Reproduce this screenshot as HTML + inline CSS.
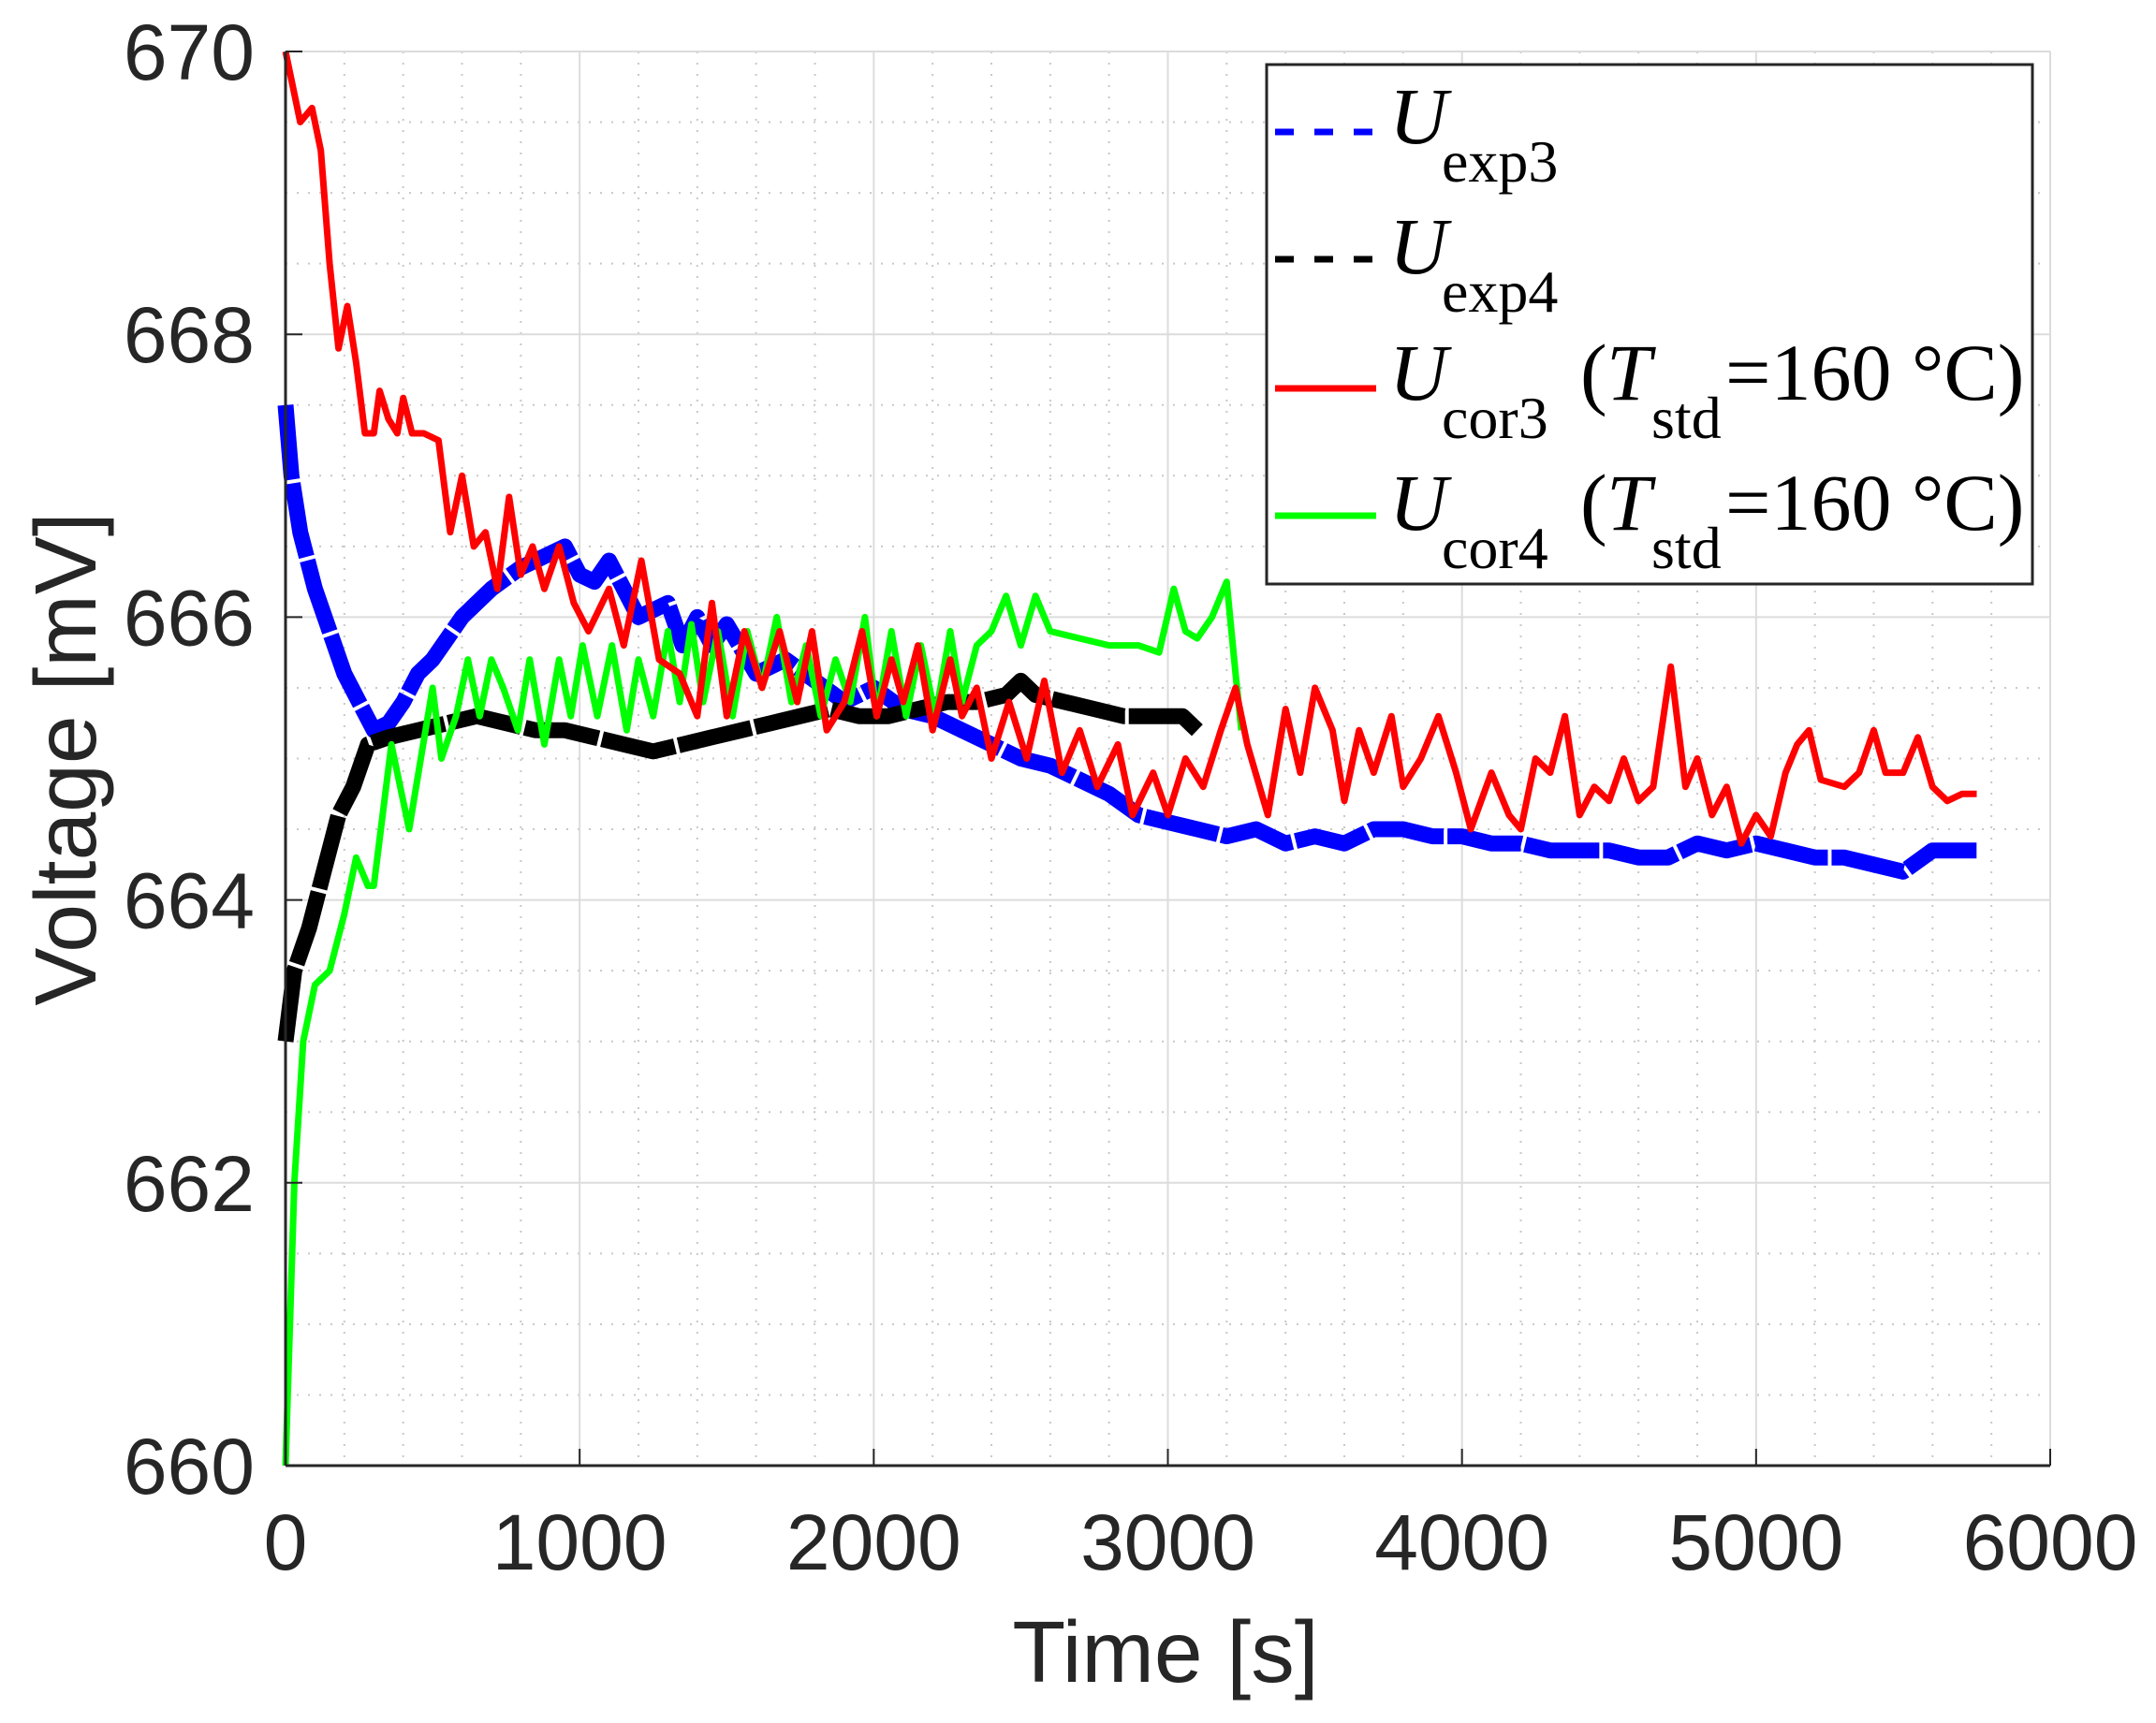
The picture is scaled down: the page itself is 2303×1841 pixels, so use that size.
<!DOCTYPE html>
<html><head><meta charset="utf-8"><style>
html,body{margin:0;padding:0;background:#fff;}
svg{display:block;}
</style></head><body>
<svg id="chart" width="2303" height="1841" viewBox="0 0 2303 1841" xmlns="http://www.w3.org/2000/svg">
<rect width="2303" height="1841" fill="#fff"/>
<g id="grid"></g>
<g id="series"></g>
<g id="axes"></g>
<text x="1245" y="1797" font-family="Liberation Sans, sans-serif" font-size="93" fill="#262626" text-anchor="middle">Time [s]</text>
<text transform="translate(102,811) rotate(-90)" font-family="Liberation Sans, sans-serif" font-size="93" fill="#262626" text-anchor="middle">Voltage [mV]</text>
<g font-family="Liberation Serif, serif" fill="#000">
<rect x="1353" y="69" width="818" height="555" fill="#fff" stroke="#262626" stroke-width="3"/>
<g>
<line x1="1362" y1="141" x2="1470" y2="141" stroke="#0000ff" stroke-width="7" stroke-dasharray="20,22"/>
<text x="1484" y="153" font-size="86" font-style="italic">U</text>
<text x="1540" y="194" font-size="64">exp3</text></g>
<g>
<line x1="1362" y1="277" x2="1470" y2="277" stroke="#000" stroke-width="7" stroke-dasharray="20,22"/>
<text x="1484" y="292" font-size="86" font-style="italic">U</text>
<text x="1540" y="333" font-size="64">exp4</text></g>
<g>
<line x1="1362" y1="415" x2="1470" y2="415" stroke="#ff0000" stroke-width="7"/>
<text x="1484" y="427" font-size="86" font-style="italic">U</text>
<text x="1540" y="468" font-size="64">cor3</text>
<text x="1688" y="427" font-size="86">(</text>
<text x="1716" y="427" font-size="86" font-style="italic">T</text>
<text x="1764" y="468" font-size="64">std</text>
<text x="1843" y="427" font-size="86">=160 °C)</text></g>
<g>
<line x1="1362" y1="551" x2="1470" y2="551" stroke="#00ff00" stroke-width="7"/>
<text x="1484" y="566" font-size="86" font-style="italic">U</text>
<text x="1540" y="607" font-size="64">cor4</text>
<text x="1688" y="566" font-size="86">(</text>
<text x="1716" y="566" font-size="86" font-style="italic">T</text>
<text x="1764" y="607" font-size="64">std</text>
<text x="1843" y="566" font-size="86">=160 °C)</text></g>
</g>
</svg>
<script>
const xTicks = [0,1000,2000,3000,4000,5000,6000];
const yTicks = [660,662,664,666,668,670];
const tExp3 = [0,20,50,100,150,200,250,300,350,400,450,500,550,600,650,700,800,900,950,1000,1050,1100,1150,1200,1300,1350,1400,1450,1500,1600,1700,1800,1900,2000,2100,2200,2300,2400,2500,2600,2700,2800,2900,3000,3100,3200,3300,3400,3500,3600,3700,3800,3900,4000,4100,4200,4300,4400,4500,4600,4700,4800,4900,5000,5100,5200,5300,5400,5500,5600,5700,5750];
const vExp3 = [667.5,667,666.6,666.2,665.9,665.6,665.4,665.2,665.25,665.4,665.6,665.7,665.85,666.0,666.1,666.2,666.35,666.45,666.5,666.3,666.25,666.4,666.2,666.0,666.1,665.8,666.0,665.8,665.95,665.6,665.7,665.55,665.4,665.5,665.35,665.3,665.2,665.1,665.0,664.95,664.85,664.75,664.6,664.55,664.5,664.45,664.5,664.4,664.45,664.4,664.5,664.5,664.45,664.45,664.4,664.4,664.35,664.35,664.35,664.3,664.3,664.4,664.35,664.4,664.35,664.3,664.3,664.25,664.2,664.35,664.35,664.35];
const tExp4 = [0,30,80,130,180,230,280,350,450,550,650,750,850,950,1050,1150,1250,1350,1450,1550,1650,1750,1850,1950,2050,2150,2250,2350,2450,2500,2550,2650,2750,2850,2950,3050,3100];
const vExp4 = [663,663.5,663.8,664.2,664.6,664.8,665.1,665.15,665.2,665.25,665.3,665.25,665.2,665.2,665.15,665.1,665.05,665.1,665.15,665.2,665.25,665.3,665.35,665.3,665.3,665.35,665.4,665.4,665.45,665.55,665.45,665.4,665.35,665.3,665.3,665.3,665.2];
const tCor3 = [0,50,90,120,150,180,210,240,270,300,320,350,380,400,430,470,520,560,600,640,680,720,760,800,840,880,930,980,1030,1100,1150,1210,1270,1340,1400,1450,1500,1560,1620,1680,1740,1790,1840,1900,1960,2010,2060,2100,2150,2200,2260,2300,2350,2400,2460,2520,2580,2640,2700,2760,2830,2880,2950,3000,3060,3120,3180,3230,3270,3340,3400,3450,3500,3560,3600,3650,3700,3760,3800,3860,3920,3980,4030,4100,4160,4200,4250,4300,4350,4400,4450,4500,4550,4600,4650,4710,4760,4800,4850,4900,4950,5000,5050,5100,5140,5180,5220,5300,5350,5400,5440,5500,5550,5600,5650,5700,5750];
const vCor3 = [670,669.5,669.6,669.3,668.5,667.9,668.2,667.8,667.3,667.3,667.6,667.4,667.3,667.55,667.3,667.3,667.25,666.6,667.0,666.5,666.6,666.2,666.85,666.3,666.5,666.2,666.5,666.1,665.9,666.2,665.8,666.4,665.7,665.6,665.3,666.1,665.3,665.9,665.5,665.9,665.4,665.9,665.2,665.4,665.9,665.3,665.7,665.4,665.8,665.2,665.7,665.3,665.5,665.0,665.4,665.0,665.55,664.9,665.2,664.8,665.1,664.6,664.9,664.6,665.0,664.8,665.2,665.5,665.1,664.6,665.35,664.9,665.5,665.2,664.7,665.2,664.9,665.3,664.8,665.0,665.3,664.9,664.5,664.9,664.6,664.5,665.0,664.9,665.3,664.6,664.8,664.7,665.0,664.7,664.8,665.65,664.8,665.0,664.6,664.8,664.4,664.6,664.45,664.9,665.1,665.2,664.85,664.8,664.9,665.2,664.9,664.9,665.15,664.8,664.7,664.75,664.75];
const tCor4 = [0,30,60,100,150,200,240,280,300,330,360,390,420,460,500,530,580,620,660,700,740,790,830,880,930,970,1010,1060,1110,1160,1200,1250,1300,1340,1380,1420,1470,1520,1570,1620,1670,1720,1770,1820,1870,1920,1970,2010,2060,2110,2160,2210,2260,2300,2350,2400,2450,2500,2550,2600,2700,2800,2900,2970,3020,3060,3100,3150,3200,3230,3250];
const vCor4 = [660,662,663,663.4,663.5,663.9,664.3,664.1,664.1,664.6,665.1,664.8,664.5,665.0,665.5,665.0,665.3,665.7,665.3,665.7,665.5,665.2,665.7,665.1,665.7,665.3,665.8,665.3,665.8,665.2,665.7,665.3,665.9,665.4,665.95,665.4,665.9,665.3,665.9,665.5,666.0,665.4,665.8,665.3,665.7,665.4,666.0,665.3,665.9,665.3,665.8,665.3,665.9,665.4,665.8,665.9,666.15,665.8,666.15,665.9,665.85,665.8,665.8,665.75,666.2,665.9,665.85,666.0,666.25,665.6,665.2];

const X0=305,X1=2190,Y0=55,Y1=1566;
const xS = t => X0 + (t-0)/(6000-0)*(X1-X0);
const yS = v => Y1 - (v-660)/(670-660)*(Y1-Y0);
const NS='http://www.w3.org/2000/svg';
function mk(tag, attrs, parent){const e=document.createElementNS(NS,tag);for(const k in attrs)e.setAttribute(k,attrs[k]);parent.appendChild(e);return e;}
const grid=document.getElementById('grid'), axes=document.getElementById('axes'), series=document.getElementById('series');
for(let t=200;t<6000;t+=200){ if(t%1000===0) continue;
  const l=mk('line',{x1:xS(t),x2:xS(t),y1:Y0,y2:Y1,stroke:'#c8c8c8','stroke-width':2,'stroke-dasharray':'2,10'},grid);
  
  
}
for(let v=660.5;v<670;v+=0.5){ if(Math.abs(v-Math.round(v))<0.01 && Math.round(v)%2===0) continue;
  const l=mk('line',{x1:X0,x2:X1,y1:yS(v),y2:yS(v),stroke:'#c8c8c8','stroke-width':2,'stroke-dasharray':'2,10'},grid);
  
  
}
xTicks.forEach(t=>{
  const l=mk('line',{x1:xS(t),x2:xS(t),y1:Y0,y2:Y1,stroke:'#dcdcdc','stroke-width':2},grid);
  
  
  const tk=mk('line',{x1:xS(t),x2:xS(t),y1:Y1,y2:Y1-18,stroke:'#262626','stroke-width':2},axes);
  
  
  const tx=mk('text',{x:xS(t),y:1677,'font-family':'Liberation Sans, sans-serif','font-size':84,fill:'#262626','text-anchor':'middle'},axes);
  tx.textContent=t;
  
  
});
yTicks.forEach(v=>{
  const l=mk('line',{x1:X0,x2:X1,y1:yS(v),y2:yS(v),stroke:'#dcdcdc','stroke-width':2},grid);
  
  
  const tk=mk('line',{x1:X0,x2:X0+18,y1:yS(v),y2:yS(v),stroke:'#262626','stroke-width':2},axes);
  
  
  const tx=mk('text',{x:272,y:yS(v)+30,'font-family':'Liberation Sans, sans-serif','font-size':84,fill:'#262626','text-anchor':'end'},axes);
  tx.textContent=v;
  
  
});
const xa=mk('line',{x1:X0,x2:X1,y1:Y1,y2:Y1,stroke:'#262626','stroke-width':3},axes);


const ya=mk('line',{x1:X0,x2:X0,y1:Y0,y2:Y1,stroke:'#262626','stroke-width':3},axes);


function pts(ts,vs){return ts.map((t,i)=>xS(t).toFixed(1)+','+yS(vs[i]).toFixed(1)).join(' ');}
const p3=mk('polyline',{points:pts(tExp3,vExp3),fill:'none',stroke:'#0000ff','stroke-width':17,'stroke-linejoin':'round','stroke-dasharray':'80,4'},series);


const p4=mk('polyline',{points:pts(tExp4,vExp4),fill:'none',stroke:'#000','stroke-width':17,'stroke-linejoin':'round','stroke-dasharray':'80,4'},series);


const pc4=mk('polyline',{points:pts(tCor4,vCor4),fill:'none',stroke:'#00ff00','stroke-width':7,'stroke-linejoin':'round'},series);


const pc3=mk('polyline',{points:pts(tCor3,vCor3),fill:'none',stroke:'#ff0000','stroke-width':7,'stroke-linejoin':'round'},series);


</script>
</body></html>
